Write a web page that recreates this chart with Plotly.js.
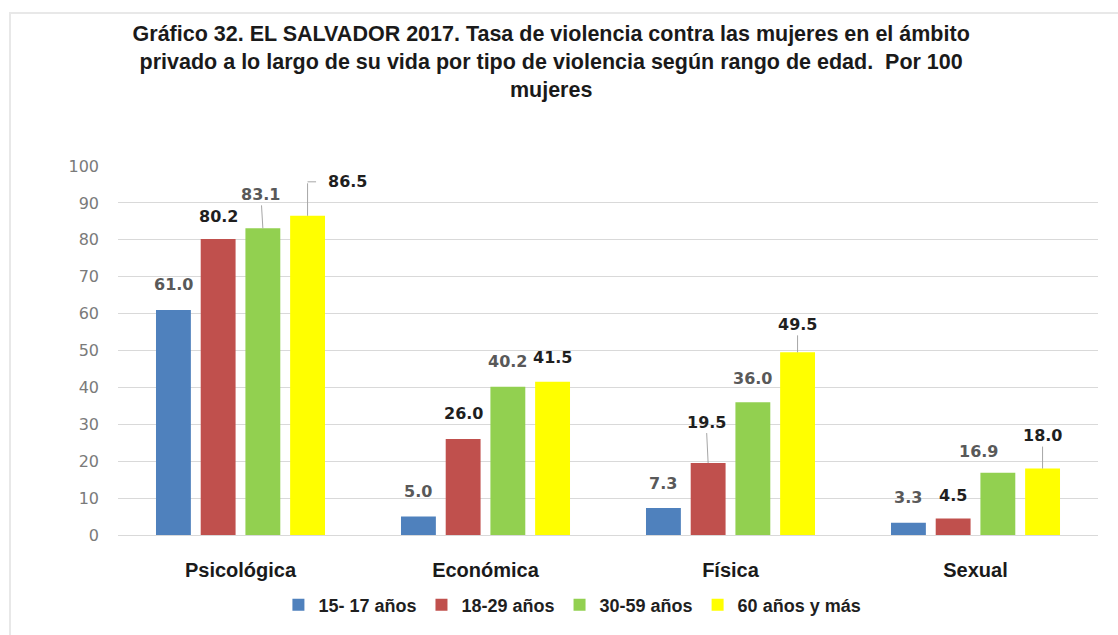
<!DOCTYPE html>
<html>
<head>
<meta charset="utf-8">
<script src="https://cdn.plot.ly/plotly-3.0.1.min.js"></script>
<style>
  html, body { margin: 0; padding: 0; background: #ffffff; }
  #wrap { position: relative; width: 1118px; height: 635px; overflow: hidden; }
  #frame { position: absolute; left: 9px; top: 12px; width: 1200px; height: 700px;
           border: 2px solid #e8e8e8; box-sizing: border-box; pointer-events: none; }
  #chart { position: absolute; left: 0; top: 0; width: 1118px; height: 635px; }
</style>
</head>
<body>
<div id="wrap">
  <div id="frame"></div>
  <div id="chart"></div>
</div>
<script>
// ---- data ----
const categories = ["Psicológica", "Económica", "Física", "Sexual"];
const seriesNames = ["15- 17 años", "18-29 años", "30-59 años", "60 años y más"];
const age15_17 = [61.0, 5.0, 7.3, 3.3];
const age18_29 = [80.2, 26.0, 19.5, 4.5];
const age30_59 = [83.1, 40.2, 36.0, 16.9];
const age60plus = [86.5, 41.5, 49.5, 18.0];
const yTicks = [0, 10, 20, 30, 40, 50, 60, 70, 80, 90, 100];

// ---- styles ----
const colors = ["#4f81bd", "#c0504d", "#92d050", "#ffff00"];
const seriesValues = [age15_17, age18_29, age30_59, age60plus];
const bargap = 0.27;
const slot = (1 - bargap) / seriesValues.length;

// label style per [series][category]: dx, dy (px above bar top), dark, leader ('', 'line', 'elbow')
const labelStyle = [
  [[0, 25, false, ''], [0, 25, false, ''], [0, 25, false, ''], [0, 25, false, '']],
  [[0, 23, true, ''],  [0, 26, true, ''],  [-2, 41, true, 'line'], [0, 23, true, '']],
  [[-2, 34, false, 'line'], [0, 25, false, ''], [0, 24, false, ''], [-19, 21, false, '']],
  [[40, 34, true, 'elbow'], [0, 24, true, ''], [0, 28, true, 'line'], [0, 33, true, 'line']]
];

const traces = seriesValues.map((vals, s) => ({
  type: "bar",
  name: seriesNames[s],
  x: categories,
  y: vals,
  marker: { color: colors[s] },
  hoverinfo: "x+y+name"
}));

const annotations = [];
const leaderColor = "#a6a6a6";
seriesValues.forEach((vals, s) => {
  vals.forEach((v, c) => {
    const [dx, dy, dark, leader] = labelStyle[s][c];
    const xc = c + (s - 1.5) * slot;
    const font = { family: "DejaVu Sans", size: 16, color: dark ? "#1f1f1f" : "#595959", weight: "bold" };
    const txt = v.toFixed(1);
    if (leader === 'line') {
      annotations.push({
        x: xc, y: v, xref: "x", yref: "y", text: txt, font: font,
        showarrow: true, arrowhead: 0, arrowwidth: 1, arrowcolor: leaderColor,
        ax: dx, ay: -dy, standoff: 0
      });
    } else if (leader === 'elbow') {
      annotations.push({
        x: xc, y: v, xref: "x", yref: "y", text: "",
        showarrow: true, arrowhead: 0, arrowwidth: 1, arrowcolor: leaderColor,
        ax: 0, ay: -dy, standoff: 0
      });
      annotations.push({
        x: xc, y: v, xref: "x", yref: "y", text: "", yshift: dy,
        showarrow: true, arrowhead: 0, arrowwidth: 1, arrowcolor: leaderColor,
        ax: 10, ay: 0, standoff: 0
      });
      annotations.push({
        x: xc, y: v, xref: "x", yref: "y", text: txt, font: font,
        showarrow: false, xshift: dx, yshift: dy
      });
    } else {
      annotations.push({
        x: xc, y: v, xref: "x", yref: "y", text: txt, font: font,
        showarrow: false, xshift: dx, yshift: dy
      });
    }
  });
});

const layout = {
  width: 1118,
  height: 635,
  paper_bgcolor: "rgba(0,0,0,0)",
  plot_bgcolor: "rgba(0,0,0,0)",
  margin: { l: 118, r: 20, t: 166, b: 100 },
  title: {
    text: "Gráfico 32. EL SALVADOR 2017. Tasa de violencia contra las mujeres en el ámbito<br>privado a lo largo de su vida por tipo de violencia según rango de edad.  Por 100<br>mujeres",
    font: { family: "Liberation Sans", size: 21.5, color: "#1a1a1a", weight: "bold" },
    x: 0.493, xref: "container", xanchor: "center",
    y: 0.935, yref: "container", yanchor: "top"
  },
  barmode: "group",
  bargap: bargap,
  bargroupgap: 0.22,
  xaxis: {
    type: "category",
    tickfont: { family: "Liberation Sans", size: 20, color: "#1a1a1a", weight: "bold" },
    showgrid: false,
    showline: true, linecolor: "#d9d9d9", linewidth: 1,
    ticks: "", ticklabelstandoff: 17
  },
  yaxis: {
    range: [0, 100],
    tickvals: yTicks,
    tickfont: { family: "DejaVu Sans", size: 16, color: "#7a7a7a" },
    showgrid: true, gridcolor: "#d9d9d9", gridwidth: 1,
    zeroline: false, showline: false,
    ticks: "", ticklabelstandoff: 18
  },
  legend: {
    orientation: "h",
    xref: "container", yref: "container",
    x: 0.512, xanchor: "center",
    y: 0.047, yanchor: "middle",
    font: { family: "Liberation Sans", size: 18, color: "#1f1f1f", weight: "bold" },
    itemwidth: 30,
    traceorder: "normal"
  },
  annotations: annotations,
  showlegend: true
};

Plotly.newPlot("chart", traces, layout, { displayModeBar: false, staticPlot: true });
</script>
</body>
</html>
